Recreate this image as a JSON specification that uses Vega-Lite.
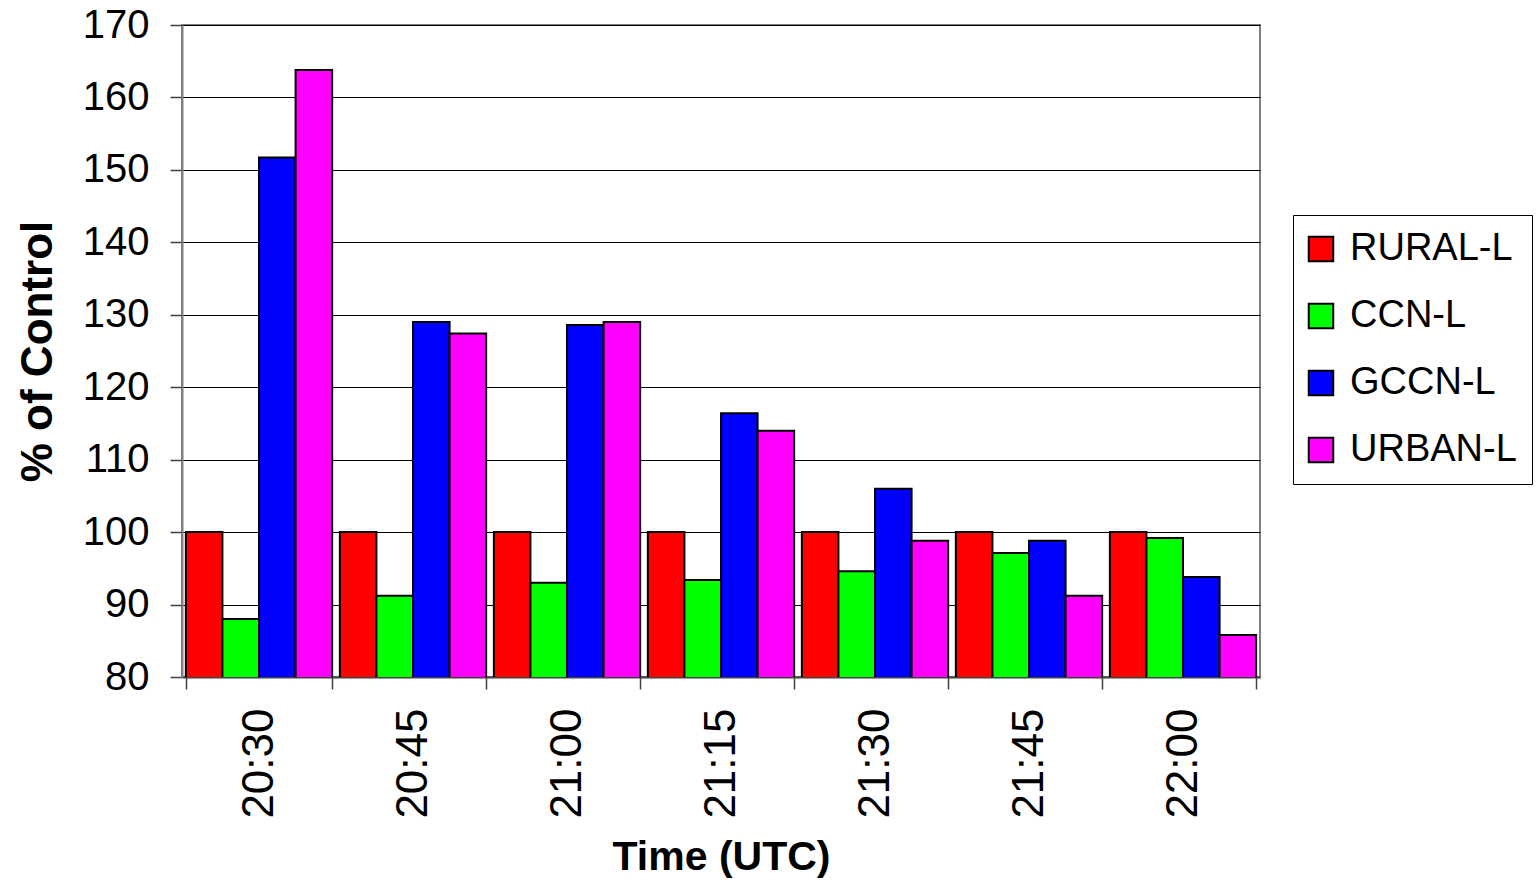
{
  "$schema": "https://vega.github.io/schema/vega-lite/v6.json",
  "autosize": {"type": "none"},
  "padding": {"left": 182, "top": 25, "right": 278, "bottom": 205},
  "width": 1078,
  "height": 652,
  "background": "white",
  "config": {
    "font": "Liberation Sans",
    "view": {"stroke": "#808080", "strokeWidth": 2}
  },
  "data": {
    "values": [
      {"time": "20:30", "series": "RURAL-L", "value": 100},
      {"time": "20:30", "series": "CCN-L", "value": 88},
      {"time": "20:30", "series": "GCCN-L", "value": 151.7},
      {"time": "20:30", "series": "URBAN-L", "value": 163.8},
      {"time": "20:45", "series": "RURAL-L", "value": 100},
      {"time": "20:45", "series": "CCN-L", "value": 91.2},
      {"time": "20:45", "series": "GCCN-L", "value": 129.0},
      {"time": "20:45", "series": "URBAN-L", "value": 127.4},
      {"time": "21:00", "series": "RURAL-L", "value": 100},
      {"time": "21:00", "series": "CCN-L", "value": 93.0},
      {"time": "21:00", "series": "GCCN-L", "value": 128.6},
      {"time": "21:00", "series": "URBAN-L", "value": 129.0},
      {"time": "21:15", "series": "RURAL-L", "value": 100},
      {"time": "21:15", "series": "CCN-L", "value": 93.4},
      {"time": "21:15", "series": "GCCN-L", "value": 116.4},
      {"time": "21:15", "series": "URBAN-L", "value": 114.0},
      {"time": "21:30", "series": "RURAL-L", "value": 100},
      {"time": "21:30", "series": "CCN-L", "value": 94.6},
      {"time": "21:30", "series": "GCCN-L", "value": 106.0},
      {"time": "21:30", "series": "URBAN-L", "value": 98.8},
      {"time": "21:45", "series": "RURAL-L", "value": 100},
      {"time": "21:45", "series": "CCN-L", "value": 97.1},
      {"time": "21:45", "series": "GCCN-L", "value": 98.8},
      {"time": "21:45", "series": "URBAN-L", "value": 91.2},
      {"time": "22:00", "series": "RURAL-L", "value": 100},
      {"time": "22:00", "series": "CCN-L", "value": 99.2},
      {"time": "22:00", "series": "GCCN-L", "value": 93.8},
      {"time": "22:00", "series": "URBAN-L", "value": 85.8}
    ]
  },
  "mark": {"type": "bar", "stroke": "black", "strokeWidth": 2, "clip": true},
  "encoding": {
    "x": {
      "field": "time",
      "type": "nominal",
      "sort": null,
      "scale": {"paddingInner": 0.05, "paddingOuter": 0.025},
      "axis": {
        "title": "Time (UTC)",
        "titleFontSize": 41,
        "titleFontWeight": "bold",
        "titleColor": "black",
        "titlePadding": 19,
        "labelAngle": 270,
        "labelFontSize": 44,
        "labelColor": "black",
        "labelPadding": 19,
        "tickBand": "extent",
        "tickSize": 12,
        "tickColor": "#404040",
        "tickWidth": 1.5,
        "domainColor": "#404040",
        "domainWidth": 2
      }
    },
    "xOffset": {
      "field": "series",
      "type": "nominal",
      "sort": ["RURAL-L", "CCN-L", "GCCN-L", "URBAN-L"],
      "scale": {"paddingInner": 0, "paddingOuter": 0}
    },
    "y": {
      "field": "value",
      "type": "quantitative",
      "scale": {"domain": [80, 170], "nice": false, "zero": false},
      "axis": {
        "title": "% of Control",
        "titleFontSize": 44,
        "titleFontWeight": "bold",
        "titleColor": "black",
        "titlePadding": 22,
        "values": [80, 90, 100, 110, 120, 130, 140, 150, 160, 170],
        "labelFontSize": 40,
        "labelColor": "black",
        "labelPadding": 21,
        "tickSize": 12,
        "tickColor": "#404040",
        "tickWidth": 1.5,
        "domainColor": "#808080",
        "domainWidth": 2,
        "grid": true,
        "gridColor": "black",
        "gridWidth": 1.2,
        "gridOpacity": 1
      }
    },
    "color": {
      "field": "series",
      "type": "nominal",
      "sort": ["RURAL-L", "CCN-L", "GCCN-L", "URBAN-L"],
      "scale": {
        "domain": ["RURAL-L", "CCN-L", "GCCN-L", "URBAN-L"],
        "range": ["#FF0000", "#00FF00", "#0000FF", "#FF00FF"]
      },
      "legend": {
        "title": null,
        "orient": "none",
        "legendX": 1111,
        "legendY": 190,
        "strokeColor": "black",
        "fillColor": "white",
        "padding": 15,
        "symbolType": "square",
        "symbolSize": 600,
        "symbolOffset": -6,
        "symbolStrokeColor": "black",
        "symbolStrokeWidth": 2,
        "symbolOpacity": 1,
        "labelFontSize": 38,
        "labelColor": "black",
        "labelOffset": 10,
        "rowPadding": 29,
        "labelLimit": 400
      }
    }
  }
}
